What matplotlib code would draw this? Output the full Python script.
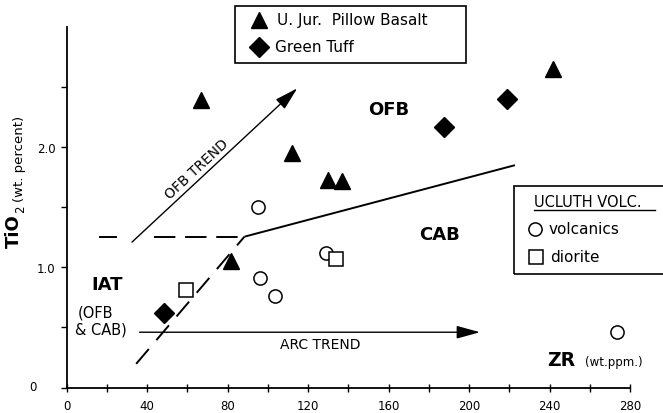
import matplotlib
matplotlib.use("Agg")
import matplotlib.pyplot as plt
from matplotlib.patches import Rectangle
from matplotlib.lines import Line2D

plt.rcParams['font.family'] = ['DejaVu Sans']

# ---- data ----
basalt_zr = [66.6, 111.8, 129.7, 137.0, 81.4, 241.5]
basalt_ti = [2.39, 1.95, 1.73, 1.72, 1.05, 2.65]
tuff_zr = [48.3, 187.5, 219.0]
tuff_ti = [0.62, 2.17, 2.40]
volc_zr = [95.0, 96.0, 103.6, 129.0, 273.3]
volc_ti = [1.50, 0.91, 0.76, 1.12, 0.46]
dior_zr = [59.3, 134.0]
dior_ti = [0.81, 1.07]

boundary_solid_x = [88.3, 222.8]
boundary_solid_y = [1.255, 1.85]
boundary_hdash1_x = [16.0, 24.8]
boundary_hdash2_x = [43.5, 88.3]
boundary_hdash_y = [1.255, 1.255]
boundary_ddash_x = [34.5, 88.3]
boundary_ddash_y = [0.197, 1.255]
ofb_trend_start = (32.4, 1.21)
ofb_trend_end = (114.6, 2.49)
arc_trend_start = (36.2, 0.46)
arc_trend_end = (205.4, 0.46)

x_major = [0, 40, 80, 120, 160, 200, 240, 280]
x_minor = [20, 60, 100, 140, 180, 220, 260]
y_major = [0, 1.0, 2.0]
y_major_labels = ["", "1.0", "2.0"]
y_minor = [0.5, 1.5, 2.5]

W, H = 663, 414
fig = plt.figure(figsize=(W / 100, H / 100), dpi=100)
ax_left = 66.8 / W
ax_right = 630.0 / W
ax_bottom = 1 - 388.5 / H
ax_top = 1 - 28.0 / H
ax = fig.add_axes([ax_left, ax_bottom, ax_right - ax_left, ax_top - ax_bottom])
ax.set_xlim(0, 280)
ax.set_ylim(0, 3.0)
for s in ['top', 'right']:
    ax.spines[s].set_visible(False)
for s in ['left', 'bottom']:
    ax.spines[s].set_linewidth(1.3)

ax.set_xticks(x_major)
ax.set_xticks(x_minor, minor=True)
ax.set_xticklabels([str(v) for v in x_major])
ax.set_yticks(y_major)
ax.set_yticklabels(y_major_labels)
ax.set_yticks(y_minor, minor=True)
ax.tick_params(axis='x', which='both', direction='inout', length=6, width=1, labelsize=8.5, pad=5)
ax.tick_params(axis='y', which='both', direction='out', length=4, width=1, labelsize=8.5, pad=4)

def fpx(x, y):
    return x / W, 1 - y / H

fig.text(*fpx(33, 388), "0", fontsize=8.5, ha='center', va='center')

# markers
ax.plot(basalt_zr, basalt_ti, linestyle='none', marker='^', ms=11.5, color='black', clip_on=False, zorder=5)
ax.plot(tuff_zr, tuff_ti, linestyle='none', marker='D', ms=10, color='black', clip_on=False, zorder=5)
ax.plot(volc_zr, volc_ti, linestyle='none', marker='o', ms=9.5, mfc='white', mec='black', mew=1.1, clip_on=False, zorder=5)
ax.plot(dior_zr, dior_ti, linestyle='none', marker='s', ms=9.5, mfc='white', mec='black', mew=1.1, clip_on=False, zorder=5)

# boundaries
ax.plot(boundary_solid_x, boundary_solid_y, color='black', lw=1.4, solid_capstyle='butt')
ax.plot(boundary_hdash1_x, boundary_hdash_y, color='black', lw=1.4, solid_capstyle='butt')
ax.plot(boundary_hdash2_x, boundary_hdash_y, color='black', lw=1.4, dashes=(11, 5))
ax.plot(boundary_ddash_x, boundary_ddash_y, color='black', lw=1.4, dashes=(10, 6))

arrow_props = dict(arrowstyle='-|>,head_length=0.8,head_width=0.22', lw=1.0, color='black',
                   mutation_scale=18, shrinkA=0, shrinkB=0)
ax.annotate('', xy=ofb_trend_end, xytext=ofb_trend_start, arrowprops=arrow_props)
ax.annotate('', xy=arc_trend_end, xytext=arc_trend_start, arrowprops=arrow_props)

# region labels
ax.text(159.8, 2.32, "OFB", fontsize=13, fontweight='bold', ha='center', va='center')
ax.text(185.4, 1.28, "CAB", fontsize=13, fontweight='bold', ha='center', va='center')
ax.text(19.8, 0.86, "IAT", fontsize=13, fontweight='bold', ha='center', va='center')
ax.text(5.5, 0.632, "(OFB", fontsize=10.5, ha='left', va='center')
ax.text(4.2, 0.485, "& CAB)", fontsize=10.5, ha='left', va='center')
ax.text(64.5, 1.82, "OFB TREND", fontsize=10, rotation=43, ha='center', va='center', rotation_mode='anchor')
ax.text(125.9, 0.363, "ARC TREND", fontsize=10, ha='center', va='center')
ax.text(238.9, 0.19, "ZR", fontsize=13.5, fontweight='bold', ha='left', va='baseline')
ax.text(257.5, 0.19, "(wt.ppm.)", fontsize=8.5, ha='left', va='baseline')

# y label
fig.text(*fpx(14, 248), "TiO", fontsize=13, fontweight='bold', rotation=90, ha='center', va='bottom')
fig.text(*fpx(21, 213), "2", fontsize=8.5, rotation=90, ha='center', va='bottom')
fig.text(*fpx(19.5, 202), "(wt. percent)", fontsize=9.5, rotation=90, ha='center', va='bottom')

# legend box 1
fig.patches.append(Rectangle(fpx(234.7, 63.5), (466 - 234.7) / W, (63.5 - 7.3) / H,
                             transform=fig.transFigure, fill=False, ec='black', lw=1.2))
fig.lines.append(Line2D([259 / W], [1 - 20.7 / H], transform=fig.transFigure, marker='^', ms=11.5, color='black', linestyle='none'))
fig.lines.append(Line2D([259 / W], [1 - 48 / H], transform=fig.transFigure, marker='D', ms=10, color='black', linestyle='none'))
fig.text(*fpx(277, 20.7), "U. Jur.  Pillow Basalt", fontsize=11, ha='left', va='center')
fig.text(*fpx(275, 48), "Green Tuff", fontsize=11, ha='left', va='center')

# legend box 2
fig.patches.append(Rectangle(fpx(514, 275), (680 - 514) / W, (275 - 187) / H,
                             transform=fig.transFigure, fill=False, ec='black', lw=1.2))
fig.text(*fpx(533.6, 203), "UCLUTH VOLC.", fontsize=10.5, ha='left', va='center')
fig.lines.append(Line2D([533.6 / W, 655 / W], [1 - 211 / H, 1 - 211 / H], transform=fig.transFigure, color='black', lw=1.0))
fig.lines.append(Line2D([535 / W], [1 - 230 / H], transform=fig.transFigure, marker='o', ms=9.5, mfc='white', mec='black', mew=1.1, linestyle='none'))
fig.lines.append(Line2D([536 / W], [1 - 258 / H], transform=fig.transFigure, marker='s', ms=9.5, mfc='white', mec='black', mew=1.1, linestyle='none'))
fig.text(*fpx(549, 230), "volcanics", fontsize=11, ha='left', va='center')
fig.text(*fpx(550, 258), "diorite", fontsize=11, ha='left', va='center')

fig.savefig("out.png", dpi=100)
